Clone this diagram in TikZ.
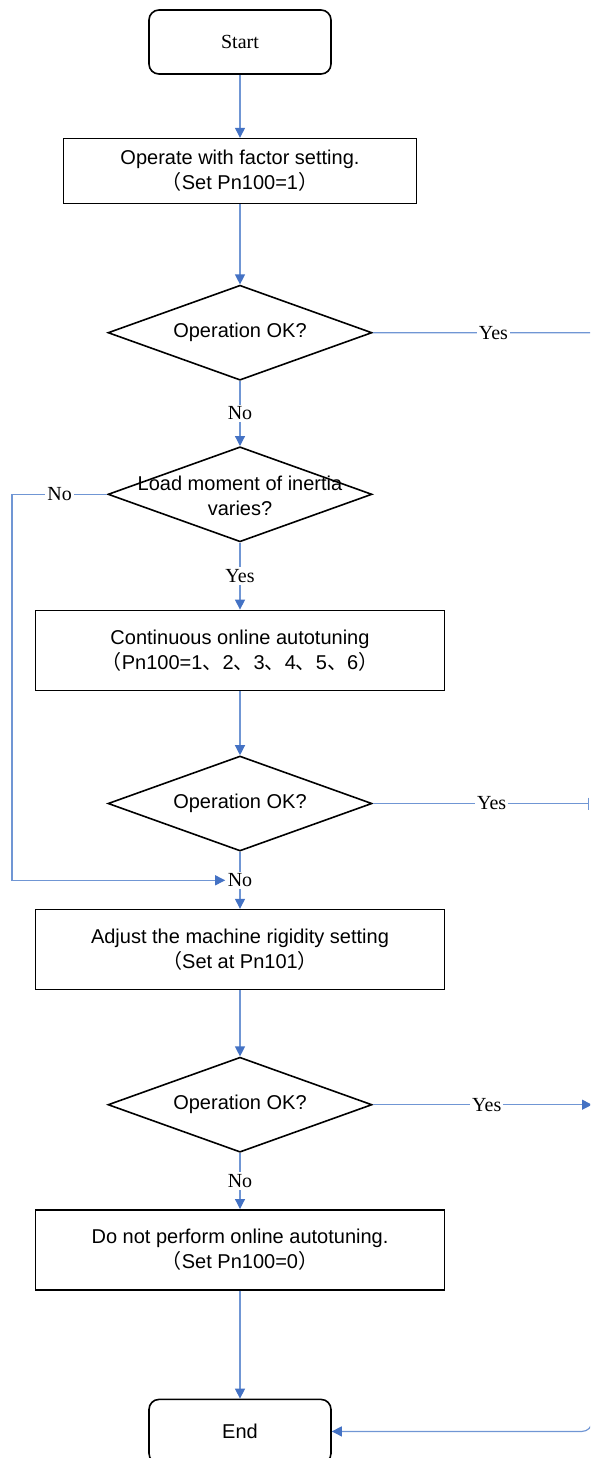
\documentclass[tikz,border=0pt]{standalone}
\usepackage{fontspec}
\setmainfont{Liberation Sans}
\newfontfamily\serifyn{Liberation Serif}
\newfontfamily\cjk{Noto Sans CJK SC}
\usepackage{tikz}
\usetikzlibrary{shapes.geometric, arrows.meta, positioning}
\usepackage{xcolor}
\definecolor{flowblue}{RGB}{112,150,212}
\definecolor{tipblue}{RGB}{68,114,196}
\tikzstyle{terminal} = [rectangle, rounded corners=5pt, minimum width=91pt, minimum height=32pt,
                        text centered, draw=black, line width=0.8pt, font=\fontsize{10}{12}\selectfont]
\tikzstyle{process}  = [rectangle, minimum width=204.5pt, minimum height=40pt, align=center,
                        draw=black, line width=0.8pt, font=\fontsize{10}{12.5}\selectfont]
\tikzstyle{decision} = [diamond, aspect=2.78, minimum width=132pt, minimum height=47.5pt,
                        inner sep=0pt, draw=black, line width=0.8pt]
\tikzstyle{asks}     = [align=center, font=\fontsize{10}{12.5}\selectfont]
\tikzstyle{answer}   = [fill=white, inner sep=1pt, font=\serifyn\fontsize{10}{12}\selectfont]
\tikzstyle{arrow}    = [draw=flowblue, line width=0.6pt, -{Triangle[length=5pt, width=5pt, color=tipblue]}]
\tikzstyle{line}     = [draw=flowblue, line width=0.6pt]

\begin{document}
\begin{tikzpicture}[x=1pt, y=1pt, node distance=32pt]
                \useasboundingbox (0,0) rectangle (295,-729);
                \clip (0,0) rectangle (295,-729);
                \coordinate (lft) at (6,0);
                \coordinate (rgt) at (296,0);
                \coordinate (bar) at (294.5,0);
                \node (start) [terminal, font=\serifyn\fontsize{10}{12}\selectfont] at (120,-21) {Start};
                \node (factor) [process, minimum width=176.5pt, minimum height=32.5pt, below=31.5pt of start]
                      {Operate with factor setting.\\{\cjk （}Set Pn100=1{\cjk ）}};
                \node (ok1) [decision, below=40pt of factor] {};
                \node (ok1t) [asks] at (ok1) {Operation OK?};
                \node (inertia) [decision, below=32.5pt of ok1] {};
                \node (inertiat) [asks] at ([yshift=-1pt]inertia) {Load moment of inertia\\varies?};
                \node (online) [process, below=33.5pt of inertia]
                      {Continuous online autotuning\\{\cjk （}Pn100=1{\cjk 、}2{\cjk 、}3{\cjk 、}4{\cjk 、}5{\cjk 、}6{\cjk ）}};
                \node (ok2) [decision, below=32pt of online] {};
                \node (ok2t) [asks] at (ok2) {Operation OK?};
                \node (rigid) [process, below=28.5pt of ok2]
                      {Adjust the machine rigidity setting\\{\cjk （}Set at Pn101{\cjk ）}};
                \node (ok3) [decision, below=33pt of rigid] {};
                \node (ok3t) [asks] at (ok3) {Operation OK?};
                \node (nooff) [process, below=28pt of ok3]
                      {Do not perform online autotuning.\\{\cjk （}Set Pn100=0{\cjk ）}};
                \node (end) [terminal, below=54pt of nooff] {End};
                \draw[arrow] (start)--(factor); \draw[arrow] (factor)--(ok1);
                \draw[arrow] (ok1)--node[answer]{No}(inertia);
                \draw[arrow] (inertia)--node[answer]{Yes}(online);
                \draw[arrow] (online)--(ok2);
                \draw[arrow] (ok2)--node[answer](no3){No}(rigid);
                \draw[arrow] (rigid)--(ok3);
                \draw[arrow] (ok3)--node[answer]{No}(nooff);
                \draw[arrow] (nooff)--(end);
                % loop back when the load does not vary
                \draw[arrow] (inertia.west)--node[answer]{No}(inertia.west -| lft) |- (no3.west);
                % yes branches to the end
                \draw[arrow] (ok1.east)--node[answer, pos=0.55]{Yes}(ok1.east -| rgt)
                      --([yshift=5pt]end.east -| rgt) to[out=-90, in=0] ([xshift=-5pt]end.east -| rgt)--(end.east);
                \draw[line, -{Bar[width=6pt]}] (ok2.east)--node[answer, pos=0.55]{Yes}(ok2.east -| bar);
                \draw[arrow] (ok3.east)--node[answer, pos=0.52]{Yes}(ok3.east -| rgt);
            \end{tikzpicture}
\end{document}
